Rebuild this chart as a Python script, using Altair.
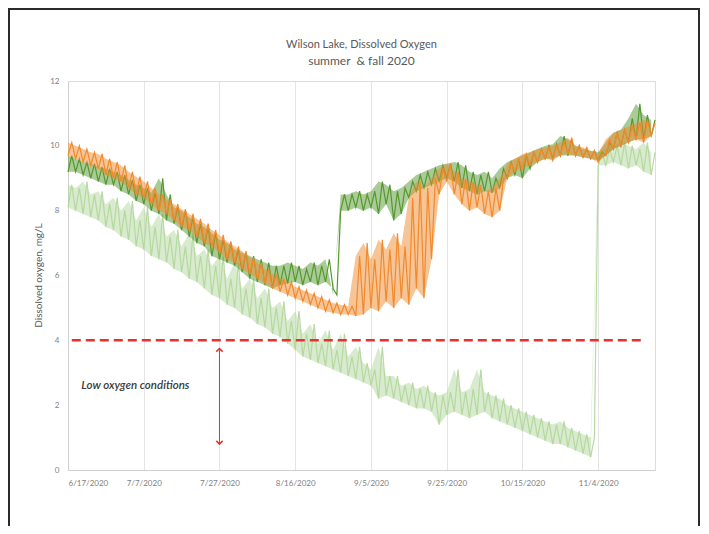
import altair as alt
import pandas as pd

# ---- data (envelopes every 2 days from 6/17/2020) ----
start = pd.Timestamp("2020-06-17")
step_days = list(range(0, 156, 2))

m6_lo = [9.2, 9.2, 9.1, 9.0, 8.9, 8.8, 8.8, 8.6, 8.5, 8.3,
         8.2, 8.0, 7.9, 7.7, 7.6, 7.4, 7.2, 7.0, 6.9, 6.6,
         6.5, 6.4, 6.3, 6.1, 5.9, 5.8, 5.7, 5.6, 5.7, 5.75,
         5.8, 5.7, 5.8, 5.7, 5.8, 5.6, 8.0, 8.0, 8.1, 8.0,
         8.1, 7.9, 8.2, 7.7, 7.9, 8.4, 8.6, 8.7, 8.8, 8.9,
         9.0, 8.9, 8.7, 8.6, 8.5, 8.6, 8.55, 8.7, 9.0, 9.1,
         9.0, 9.3, 9.5, 9.6, 9.6, 9.7, 9.7, 9.7, 9.65, 9.6,
         9.55, 9.7, 9.9, 10.0, 10.1, 10.2, 10.2, 10.3]
m6_hi = [9.7, 9.6, 9.5, 9.45, 9.35, 9.3, 9.2, 9.1, 8.95, 8.8,
         8.7, 8.55, 9.0, 8.5, 8.1, 8.0, 7.8, 7.6, 7.5, 7.3,
         7.1, 7.0, 6.8, 6.7, 6.6, 6.5, 6.4, 6.3, 6.3, 6.4,
         6.3, 6.2, 6.4, 6.3, 6.5, 5.4, 8.5, 8.5, 8.6, 8.5,
         8.6, 8.9, 8.8, 8.6, 8.7, 8.9, 9.1, 9.2, 9.3, 9.4,
         9.45, 9.5, 9.4, 9.2, 9.1, 9.2, 9.0, 9.3, 9.5, 9.6,
         9.7, 9.8, 9.9, 10.0, 10.05, 10.3, 10.2, 10.0, 9.9, 9.85,
         9.8, 10.1, 10.4, 10.5, 10.85, 11.3, 10.95, 10.8]

m8_lo = [9.7, 9.6, 9.5, 9.4, 9.3, 9.1, 9.0, 8.9, 8.7, 8.5,
         8.4, 8.2, 8.0, 7.9, 7.7, 7.5, 7.4, 7.2, 7.0, 6.9,
         6.7, 6.5, 6.4, 6.2, 6.05, 5.9, 5.75, 5.6, 5.5, 5.4,
         5.3, 5.2, 5.1, 5.0, 4.9, 4.85, 4.8, 4.8, 4.75, 4.8,
         5.0, 4.9, 5.2, 5.0, 5.3, 5.1, 5.6, 5.3, 6.5, 8.5,
         8.9, 8.5, 8.2, 8.0, 8.1, 7.9, 7.8, 8.0, 9.0, 9.2,
         9.3, 9.4, 9.5, 9.6, 9.55, 9.7, 9.75, 9.7, 9.65, 9.6,
         9.5, 9.7, 9.9, 10.0, 10.1, 10.2, 10.1, 10.3]
m8_hi = [10.1, 10.0, 9.9, 9.8, 9.75, 9.6, 9.5, 9.4, 9.2, 9.05,
         8.9, 8.7, 8.5, 8.35, 8.2, 8.05, 7.9, 7.75, 7.6, 7.4,
         7.25, 7.05, 6.9, 6.75, 6.55, 6.4, 6.2, 6.05, 5.9, 5.8,
         5.65, 5.55, 5.45, 5.35, 5.25, 5.15, 5.1, 5.05, 6.6, 7.0,
         6.5, 7.1, 6.8, 7.3, 6.9, 8.4, 8.9, 8.7, 9.0, 9.3,
         9.45, 9.2, 9.0, 8.9, 8.8, 8.6, 8.7, 9.0, 9.45, 9.6,
         9.75, 9.8, 9.9, 9.95, 10.0, 10.1, 10.25, 10.0, 9.95, 9.85,
         9.75, 10.2, 10.4, 10.5, 10.6, 10.7, 10.8, 10.7]

m22_lo = [8.1, 8.0, 7.9, 7.8, 7.7, 7.5, 7.4, 7.2, 7.1, 6.9,
          6.8, 6.6, 6.5, 6.4, 6.2, 6.1, 5.9, 5.8, 5.6, 5.4,
          5.3, 5.1, 5.0, 4.8, 4.7, 4.5, 4.4, 4.2, 4.1, 3.9,
          3.7, 3.5, 3.4, 3.3, 3.2, 3.1, 3.0, 2.9, 2.8, 2.7,
          2.6, 2.2, 2.3, 2.2, 2.1, 2.0, 1.9, 1.9, 1.8, 1.4,
          1.7, 1.8, 1.7, 1.6, 1.7, 1.8, 1.6, 1.5, 1.4, 1.3,
          1.2, 1.1, 1.0, 0.9, 0.8, 0.8, 0.7, 0.6, 0.5, 0.4,
          9.4, 9.4, 9.5, 9.4, 9.3, 9.4, 9.2, 9.1]
m22_hi = [8.8, 8.7, 8.9, 8.5, 8.6, 8.2, 8.4, 8.0, 8.3, 7.7,
          8.1, 7.5, 7.9, 7.2, 7.4, 6.9, 7.3, 6.6, 6.8, 6.3,
          6.6, 5.9, 6.4, 5.6, 5.9, 5.3, 5.6, 5.0, 5.2, 4.6,
          4.9, 4.2, 4.5, 3.9, 4.3, 3.7, 4.2, 3.5, 3.8, 3.3,
          3.1, 3.8, 2.9, 2.9, 2.6, 2.7, 2.5, 2.6, 2.4, 2.3,
          2.4, 3.1, 2.4, 2.5, 3.1, 2.4, 2.3, 2.2, 2.0, 1.9,
          1.8, 1.7, 1.6, 1.5, 1.4, 1.5, 1.3, 1.2, 1.1, 1.0,
          9.8, 9.9, 10.0, 10.1, 10.0, 9.9, 10.1, 9.8]

series_names = ["6 m", "8 m", "22 m"]
series_colors = ["#55982f", "#f08a2c", "#b3d79d"]
tick_dates = ["2020-06-17", "2020-07-07", "2020-07-27", "2020-08-16",
              "2020-09-05", "2020-09-25", "2020-10-15", "2020-11-04"]
y_ticks = [0, 2, 4, 6, 8, 10, 12]
threshold = 4
arrow_date = "2020-07-27"
arrow_top, arrow_bottom = 3.75, 0.8
note_text = "Low oxygen conditions"
note_date, note_y = "2020-06-20", 2.6
title_text = "Wilson Lake, Dissolved Oxygen"
subtitle_text = "summer\u00a0\u00a0& fall 2020"


def day(d):
    return (start + pd.Timedelta(days=d)).strftime("%Y-%m-%d")


def build(name, lo, hi):
    rows = []
    for d, a, b in zip(step_days, lo, hi):
        rows.append({"date": day(d), "value": a, "series": name})
        rows.append({"date": day(d + 1), "value": b, "series": name})
    return pd.DataFrame(rows)


def band(name, lo, hi):
    rows = []
    for d, a, b in zip(step_days, lo, hi):
        rows.append({"date": day(d), "lo": a, "hi": b, "series": name})
    return pd.DataFrame(rows)


x_scale = alt.Scale(type="utc", domain=["2020-06-17", "2020-11-19"])
y_scale = alt.Scale(domain=[0, 12], nice=False)
c_scale = alt.Scale(domain=series_names, range=series_colors)

x_enc = alt.X("date:T", scale=x_scale, title=None,
              axis=alt.Axis(values=tick_dates,
                            labelExpr="utcFormat(datum.value, '%-m/%-d/%Y')",
                            labelFontSize=8, labelColor="#808080", labelPadding=9,
                            ticks=False, grid=True, gridColor="#e4e4e4",
                            domainColor="#d0d0d0", labelFont="Lato"))
y_enc = alt.Y("value:Q", scale=y_scale,
              axis=alt.Axis(values=y_ticks, format="d", labelFontSize=8,
                            labelColor="#808080", labelPadding=9, ticks=False,
                            grid=False, domainColor="#d0d0d0",
                            title="Dissolved oxygen, mg/L", titleFontSize=10,
                            titleFontWeight="normal", titleColor="#595959",
                            titleFont="Lato", labelFont="Lato",
                            titleX=-30, titleY=194, titleAngle=270,
                            titleAlign="center", titleBaseline="middle"))
color_enc = alt.Color("series:N", scale=c_scale,
                      legend=alt.Legend(title=None, orient="none", legendX=20, legendY=8,
                                        symbolType="stroke", symbolSize=324,
                                        symbolStrokeWidth=2, labelFontSize=9,
                                        labelColor="#595959", labelFont="Lato",
                                        rowPadding=0, padding=0, labelOffset=2))


def series_layers(name, lo, hi, line_op, band_op):
    bd = alt.Chart(band(name, lo, hi)).mark_area(opacity=band_op, interpolate="linear").encode(
        x=alt.X("date:T", scale=x_scale),
        y=alt.Y("lo:Q", scale=y_scale), y2="hi:Q",
        color=alt.Color("series:N", scale=c_scale, legend=None))
    ln = alt.Chart(build(name, lo, hi)).mark_line(strokeWidth=1.2, opacity=line_op).encode(
        x=x_enc, y=y_enc, color=color_enc)
    return [bd, ln]


layers = []
layers += series_layers("22 m", m22_lo, m22_hi, 0.95, 0.5)
layers += series_layers("6 m", m6_lo, m6_hi, 1.0, 0.5)
layers += series_layers("8 m", m8_lo, m8_hi, 1.0, 0.5)

thr_df = pd.DataFrame({"date": ["2020-06-18"], "date2": ["2020-11-16"], "value": [threshold]})
thr = alt.Chart(thr_df).mark_rule(color="#e8302c", strokeWidth=2.5, strokeDash=[9, 5]).encode(
    x=alt.X("date:T", scale=x_scale), x2="date2:T", y=alt.Y("value:Q", scale=y_scale))

arr_df = pd.DataFrame({"date": [arrow_date], "top": [arrow_top], "bottom": [arrow_bottom]})
arr = alt.Chart(arr_df).mark_rule(color="#e8302c", strokeWidth=1).encode(
    x=alt.X("date:T", scale=x_scale), y=alt.Y("top:Q", scale=y_scale), y2="bottom:Q")
head_up = alt.Chart(arr_df).mark_point(shape="M-1,1L0,0L1,1", filled=False, color="#e8302c",
                                       size=40, strokeWidth=1.5, opacity=1).encode(
    x=alt.X("date:T", scale=x_scale), y=alt.Y("top:Q", scale=y_scale))
head_dn = alt.Chart(arr_df).mark_point(shape="M-1,-1L0,0L1,-1", filled=False, color="#e8302c",
                                       size=40, strokeWidth=1.5, opacity=1).encode(
    x=alt.X("date:T", scale=x_scale), y=alt.Y("bottom:Q", scale=y_scale))

note_df = pd.DataFrame({"date": [note_date], "value": [note_y], "label": [note_text]})
note = alt.Chart(note_df).mark_text(align="left", baseline="middle", fontStyle="italic",
                                    fontWeight=600, fontSize=11.5, font="Lato",
                                    color="#3a3a3a", dx=2).encode(
    x=alt.X("date:T", scale=x_scale), y=alt.Y("value:Q", scale=y_scale), text="label:N")

title_df = pd.DataFrame({"t1": [title_text], "t2": [subtitle_text]})
title1 = alt.Chart(title_df).mark_text(fontSize=11, font="Lato", color="#595959",
                                       baseline="middle").encode(
    x=alt.value(293.5), y=alt.value(-36), text="t1:N")
title2 = alt.Chart(title_df).mark_text(fontSize=12, font="Lato", color="#595959",
                                       baseline="middle").encode(
    x=alt.value(293.5), y=alt.value(-20), text="t2:N")

# decorative page frame (left, top, right edges)
frame_l = alt.Chart(thr_df).mark_rule(color="#2b2b2b", strokeWidth=2).encode(
    x=alt.value(-59), y=alt.value(-72), y2=alt.value(460))
frame_t = alt.Chart(thr_df).mark_rule(color="#2b2b2b", strokeWidth=2).encode(
    x=alt.value(-60), x2=alt.value(632), y=alt.value(-72))
frame_r = alt.Chart(thr_df).mark_rule(color="#2b2b2b", strokeWidth=2).encode(
    x=alt.value(631), y=alt.value(-72), y2=alt.value(460))

chart = alt.layer(*layers, thr, arr, head_up, head_dn, note, title1, title2,
                  frame_l, frame_t, frame_r).properties(
    width=587, height=389,
    autosize=alt.AutoSizeParams(type="none"),
    padding={"left": 60, "top": 73, "right": 46, "bottom": 56},
).configure_view(stroke=None).configure(background="white")

chart.save("out.html", embed_options={"renderer": "svg", "actions": False})
